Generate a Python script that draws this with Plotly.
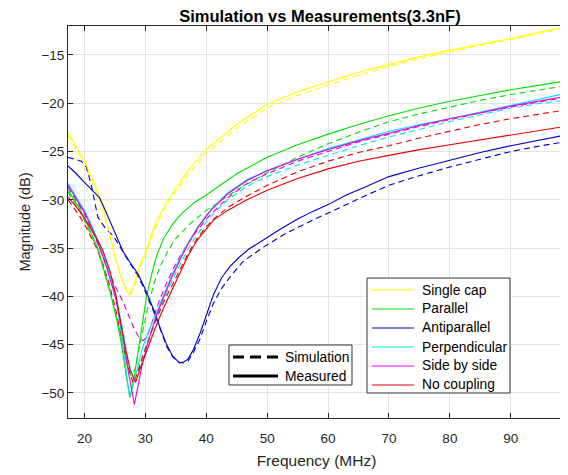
import plotly.graph_objects as go

# Single cap
single_meas_f = [17.3, 18, 19, 20, 21, 22, 23, 24, 25, 26, 26.8, 27.4, 28, 28.6, 29.2, 30, 31, 32, 33.5, 35,
                 37.5, 40, 45, 50, 55, 60, 65, 70, 75, 80, 85, 90, 95, 98.9]
single_meas_db = [-23.0, -23.8, -24.9, -26.0, -27.4, -28.9, -30.8, -33.1, -35.8, -38.0, -39.3, -39.9, -39.0,
                  -37.8, -36.6, -35.5, -33.6, -32.0, -30.3, -28.8, -26.6, -24.8, -22.2, -20.1, -18.8, -17.8,
                  -16.8, -16.0, -15.2, -14.5, -13.9, -13.3, -12.6, -12.1]
single_sim_f = [17.3, 18, 19, 20, 21, 22, 23, 24, 25, 26, 26.8, 27.6, 28.2, 28.8, 29.4, 30, 31, 32, 33.5, 35,
                37.5, 40, 45, 50, 55, 60, 65, 70, 75, 80, 85, 90, 95, 98.9]
single_sim_db = [-23.3, -24.1, -25.2, -26.3, -27.7, -29.2, -31.1, -33.3, -35.9, -38.0, -39.2, -39.7, -39.0,
                 -37.8, -36.6, -35.7, -34.0, -32.4, -30.5, -29.1, -27.0, -25.2, -22.6, -20.5, -19.2, -18.1,
                 -17.1, -16.2, -15.4, -14.7, -14.0, -13.4, -12.7, -12.2]

# Parallel
parallel_meas_f = [17.3, 18, 19, 20, 21, 22.2, 23.3, 24.4, 25.3, 26.1, 26.8, 27.5, 28.1, 28.7, 29.4, 30.2, 31,
                   31.8, 33, 34.5, 36, 38, 40, 45, 50, 55, 60, 65, 70, 75, 80, 85, 90, 95, 98.9]
parallel_meas_db = [-29.0, -29.7, -30.7, -31.9, -33.3, -35.0, -37.5, -40.0, -42.4, -45.0, -48.0, -50.5, -48.6,
                    -46.0, -43.0, -40.0, -37.8, -35.9, -34.0, -32.5, -31.4, -30.3, -29.5, -27.3, -25.6, -24.3,
                    -23.2, -22.2, -21.3, -20.5, -19.8, -19.2, -18.6, -18.1, -17.7]
parallel_sim_f = [17.3, 18, 19, 20, 21, 22.2, 23.3, 24.4, 25.3, 26.1, 26.9, 27.6, 28.3, 29, 29.8, 30.6, 31.5,
                  32.5, 33.8, 35, 37.5, 40, 45, 50, 55, 60, 65, 70, 75, 80, 85, 90, 95, 98.9]
parallel_sim_db = [-29.2, -29.9, -30.9, -32.1, -33.5, -35.2, -37.6, -40.0, -42.3, -44.6, -46.8, -48.2, -47.6,
                   -45.3, -42.8, -40.6, -38.5, -36.8, -35.2, -34.0, -32.4, -31.1, -29.0, -27.2, -25.6, -24.2,
                   -23.0, -21.9, -21.1, -20.4, -19.7, -19.1, -18.6, -18.2]

# Antiparallel
anti_meas_f = [17.3, 18.5, 20, 21.5, 22.5, 23.7, 25, 26.3, 27.5, 28.8, 30, 31.5, 32.5, 33.5, 34.5, 35.6, 36.3,
               37, 37.9, 39, 40.1, 41.2, 42.5, 43.9, 45.5, 47, 50, 52, 55, 57.5, 60, 63, 66, 70, 75, 80, 85,
               90, 95, 98.9]
anti_meas_db = [-26.5, -27.2, -28.2, -29.1, -29.8, -31.5, -33.5, -35.3, -36.5, -37.7, -39.3, -41.6, -43.4,
                -45.0, -46.2, -46.9, -46.8, -46.5, -45.5, -43.8, -41.8, -39.8, -38.1, -36.9, -35.9, -35.1,
                -33.9, -33.1, -32.0, -31.2, -30.5, -29.5, -28.7, -27.6, -26.7, -25.9, -25.1, -24.4, -23.8, -23.3]
anti_sim_f = [17.3, 18.5, 19.5, 20.3, 21.1, 22.2, 23.5, 24.7, 26.1, 27.5, 28.8, 30, 31.5, 32.5, 33.5, 34.5,
              35.5, 36.2, 37, 37.9, 39, 40, 41.2, 42.5, 43.9, 46, 49.4, 53, 57.5, 62, 66, 70, 75, 80, 85, 90,
              95, 98.9]
anti_sim_db = [-25.6, -25.8, -26.0, -26.6, -28.4, -31.8, -33.0, -33.7, -35.2, -36.6, -37.9, -39.5, -41.8,
               -43.6, -45.2, -46.3, -46.8, -46.9, -46.7, -45.8, -44.4, -42.6, -40.7, -39.2, -38.0, -36.4,
               -34.9, -33.5, -32.1, -30.8, -29.6, -28.5, -27.5, -26.6, -25.8, -25.0, -24.4, -24.0]

# Perpendicular
perp_meas_f = [17.3, 18, 19, 20, 21, 22.3, 23.6, 25.2, 26.3, 26.9, 27.4, 28, 28.7, 29.5, 30.5, 31.8, 33, 34.3,
               35.7, 37, 38.5, 40, 41.2, 43.5, 46.7, 50, 55, 60, 65, 70, 75, 80, 85, 90, 95, 98.9]
perp_meas_db = [-28.3, -29.0, -30.0, -31.1, -32.4, -34.3, -36.5, -40.0, -45.0, -48.0, -50.4, -49.2, -47.3,
                -45.4, -43.7, -41.8, -39.9, -37.9, -36.0, -34.5, -32.9, -31.6, -30.7, -29.3, -27.9, -27.0,
                -25.8, -24.7, -23.8, -22.9, -22.2, -21.6, -20.9, -20.2, -19.5, -19.0]
perp_sim_f = [17.3, 18, 19, 20, 21, 22.3, 23.6, 25.2, 26.3, 27.3, 28.2, 29, 30, 31, 32, 33.2, 34.5, 35.7, 37,
              38.5, 40, 41.2, 43.5, 46.7, 50, 55, 60, 65, 70, 75, 80, 85, 90, 95, 98.9]
perp_sim_db = [-28.5, -29.2, -30.2, -31.3, -32.6, -34.5, -36.8, -40.2, -43.5, -47.0, -48.8, -47.2, -45.3,
               -43.6, -41.9, -40.0, -38.2, -36.7, -35.1, -33.6, -32.3, -31.4, -30.0, -28.6, -27.6, -26.4,
               -25.4, -24.4, -23.5, -22.7, -21.9, -21.2, -20.5, -20.0, -19.7]

# Side by side
side_meas_f = [17.3, 18, 19, 20, 21, 22.3, 23.6, 25.2, 26.3, 27.2, 28.2, 28.8, 29.5, 30.5, 31.8, 33, 34.3,
               35.7, 37, 38.5, 40, 41.2, 43.5, 46.7, 50, 55, 60, 65, 70, 75, 80, 85, 90, 95, 98.9]
side_meas_db = [-28.5, -29.2, -30.2, -31.3, -32.6, -34.6, -36.9, -40.4, -44.0, -47.8, -51.2, -49.4, -47.0,
                -44.6, -42.0, -40.1, -38.1, -36.2, -34.6, -33.0, -31.7, -30.8, -29.4, -28.0, -27.0, -25.8,
                -24.8, -23.9, -23.1, -22.3, -21.6, -21.0, -20.3, -19.7, -19.3]
side_sim_f = [17.3, 18, 19, 20, 21, 22.3, 23.6, 24.8, 26.2, 27.2, 28.2, 29, 29.6, 30.3, 31, 32.2, 33.5, 35,
              36.5, 38, 40, 43.5, 46.7, 50, 55, 60, 65, 70, 75, 80, 85, 90, 95, 98.9]
side_sim_db = [-28.7, -29.4, -30.4, -31.5, -32.8, -34.7, -36.8, -38.6, -40.4, -42.0, -43.4, -44.3, -44.6,
               -44.2, -42.9, -40.6, -38.6, -36.6, -35.0, -33.6, -32.0, -29.8, -28.3, -27.3, -26.0, -25.0,
               -24.0, -23.2, -22.4, -21.7, -21.0, -20.4, -19.8, -19.4]

# No coupling
nocoup_meas_f = [17.3, 18, 19, 20, 21, 22, 23, 24.2, 25.2, 26, 26.6, 27.5, 28.4, 29.2, 30, 31, 31.8, 33, 34.3,
                 35.7, 37, 38.5, 40, 41.2, 43.5, 46.7, 50, 55, 60, 65, 70, 75, 80, 85, 90, 95, 98.9]
nocoup_meas_db = [-29.7, -30.2, -31.0, -31.9, -32.9, -34.0, -35.2, -37.4, -40.0, -42.8, -45.0, -47.6, -48.9,
                  -47.4, -46.0, -44.3, -43.0, -41.2, -39.4, -37.6, -35.8, -34.2, -33.0, -32.1, -31.1, -30.0,
                  -29.0, -27.8, -26.8, -26.0, -25.4, -24.8, -24.3, -23.8, -23.3, -22.8, -22.4]
nocoup_sim_f = [17.3, 18, 19, 20, 21, 22, 23, 24, 25, 26, 27, 28, 28.8, 29.6, 30.5, 31.5, 33, 34.3, 35.7, 37,
                38.5, 40, 41.2, 43.5, 46.7, 50, 55, 60, 65, 70, 75, 80, 85, 90, 95, 98.9]
nocoup_sim_db = [-30.0, -30.6, -31.5, -32.5, -33.7, -35.0, -36.6, -38.6, -41.0, -43.9, -47.0, -49.0, -47.8,
                 -46.2, -44.5, -42.8, -40.6, -39.0, -37.3, -35.6, -34.0, -32.8, -32.0, -30.8, -29.6, -28.5,
                 -27.1, -26.0, -25.1, -24.4, -23.6, -22.9, -22.2, -21.6, -21.1, -20.7]

names = ['Single cap', 'Parallel', 'Antiparallel', 'Perpendicular', 'Side by side', 'No coupling']
colors = ['#ffff00', '#00e000', '#0000c8', '#00e6e6', '#e600e6', '#e60000']
styles = ['Simulation', 'Measured']

measured = [(single_meas_f, single_meas_db), (parallel_meas_f, parallel_meas_db),
            (anti_meas_f, anti_meas_db), (perp_meas_f, perp_meas_db),
            (side_meas_f, side_meas_db), (nocoup_meas_f, nocoup_meas_db)]
simulated = [(single_sim_f, single_sim_db), (parallel_sim_f, parallel_sim_db),
             (anti_sim_f, anti_sim_db), (perp_sim_f, perp_sim_db),
             (side_sim_f, side_sim_db), (nocoup_sim_f, nocoup_sim_db)]

font = 'Liberation Sans, Arial, sans-serif'
fig = go.Figure()

for name, c, (f, db) in zip(names, colors, simulated):
    fig.add_trace(go.Scatter(x=f, y=db, mode='lines', name=name + ' (sim)',
                             line=dict(color=c, width=1.1, dash='6px,4px')))
for name, c, (f, db) in zip(names, colors, measured):
    fig.add_trace(go.Scatter(x=f, y=db, mode='lines', name=name,
                             line=dict(color=c, width=1.1)))

# matlab-like legend boxes (drawn by hand so the rows can be packed tightly)
shapes = []
annotations = []

# colour legend
shapes.append(dict(type='rect', xref='paper', yref='paper', x0=0.6016, x1=0.8893, y0=0.0638, y1=0.357,
                   line=dict(color='#333333', width=1), fillcolor='white', layer='above'))
row_y = [0.3265, 0.2781, 0.2296, 0.1811, 0.1327, 0.0842]
for name, c, yy in zip(names, colors, row_y):
    shapes.append(dict(type='line', xref='paper', yref='paper', x0=0.6117, x1=0.6962, y0=yy, y1=yy,
                       line=dict(color=c, width=1.2), layer='above'))
    annotations.append(dict(text=name, xref='paper', yref='paper', x=0.7082, y=yy, xanchor='left',
                            yanchor='middle', showarrow=False, font=dict(family=font, size=13.8, color='black')))

# line style legend
shapes.append(dict(type='rect', xref='paper', yref='paper', x0=0.3239, x1=0.5714, y0=0.0842, y1=0.1862,
                   line=dict(color='#333333', width=1), fillcolor='white', layer='above'))
style_y = [0.1556, 0.1071]
style_dash = ['11px,6px', 'solid']
for name, d, yy in zip(styles, style_dash, style_y):
    shapes.append(dict(type='line', xref='paper', yref='paper', x0=0.332, x1=0.4225, y0=yy, y1=yy,
                       line=dict(color='black', width=3, dash=d), layer='above'))
    annotations.append(dict(text=name, xref='paper', yref='paper', x=0.4326, y=yy, xanchor='left',
                            yanchor='middle', showarrow=False, font=dict(family=font, size=13.8, color='black')))

axis_common = dict(showline=True, linecolor='#262626', linewidth=1, mirror='ticks',
                   ticks='inside', ticklen=5, tickcolor='#262626',
                   showgrid=True, gridcolor='#e3e3e3', gridwidth=1, zeroline=False,
                   tickfont=dict(family=font, size=13.5, color='#262626'))

# page body adds an 8px margin, so the figure is a bit smaller than the window
fig.update_layout(
    width=560, height=467,
    margin=dict(l=60, r=3, t=18, b=57),
    paper_bgcolor='white', plot_bgcolor='white',
    showlegend=False,
    title=dict(text='<b>Simulation vs Measurements(3.3nF)</b>', x=0.557, xanchor='center',
               y=0.982, yanchor='middle', font=dict(family=font, size=16.5, color='black')),
    xaxis=dict(range=[17.3, 98.9], tickvals=[20, 30, 40, 50, 60, 70, 80, 90], ticklabelstandoff=8,
               title=dict(text='Frequency (MHz)', standoff=9,
                          font=dict(family=font, size=15.5, color='#262626')),
               **axis_common),
    yaxis=dict(range=[-52.6, -12], tickvals=[-50, -45, -40, -35, -30, -25, -20, -15],
               title=dict(text='Magnitude (dB)', standoff=7,
                          font=dict(family=font, size=14.5, color='#262626')),
               **axis_common),
    shapes=shapes,
    annotations=annotations,
)

fig.write_html('out.html')
